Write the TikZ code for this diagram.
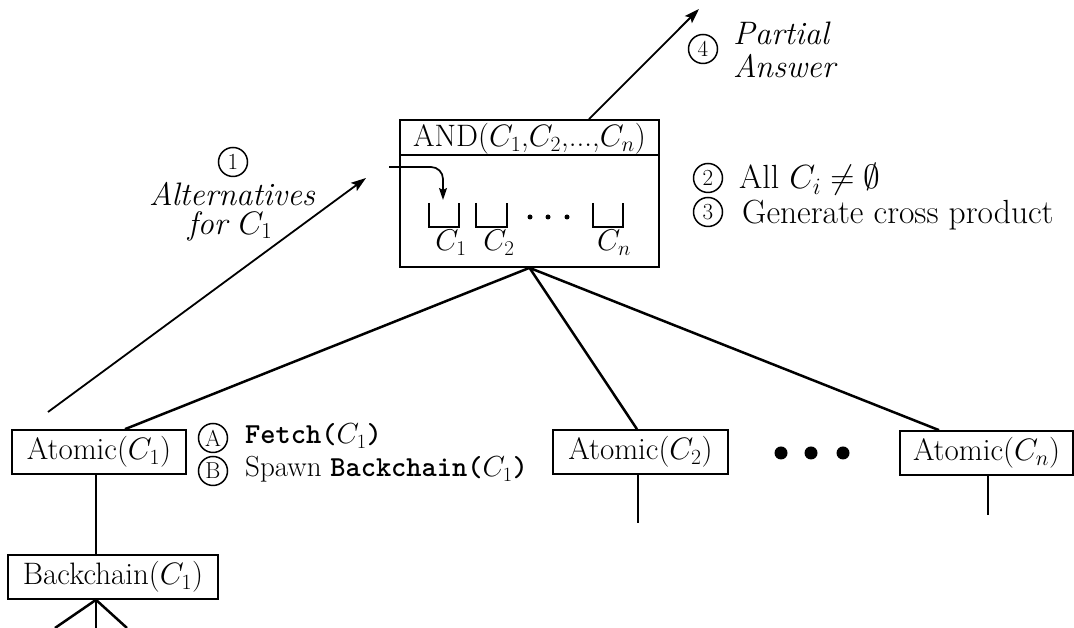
\documentclass[tikz,border=0pt]{standalone}
\usepackage{fix-cm}
\usepackage{fontspec}
\usetikzlibrary{arrows.meta}
\begin{document}
\begin{tikzpicture}[x=1pt,y=1pt,
  box/.style={draw, line width=1.7pt, inner sep=0pt, minimum height=44pt, font=\fontsize{31}{36}\selectfont},
  edge/.style={line width=2.5pt},
  thinline/.style={line width=1.7pt},
  arr/.style={line width=1.8pt, -{Stealth[length=15pt,width=10pt,inset=3pt]}},
  circ/.style={circle, draw, line width=1.5pt, inner sep=0pt, minimum size=29pt, font=\fontsize{23}{23}\selectfont},
  lbl/.style={anchor=base west, inner sep=0pt, font=\fontsize{33.5}{38}\selectfont},
  sublbl/.style={anchor=base west, inner sep=0pt, font=\fontsize{29}{34}\selectfont},
  itl/.style={inner sep=0pt, font=\fontsize{32.5}{38}\selectfont\itshape},
  bigdot/.style={circle, fill, inner sep=0pt, minimum size=13pt},
  smalldot/.style={circle, fill, inner sep=0pt, minimum size=5pt}
]
\useasboundingbox (0,0) rectangle (1074,628);

% AND node
\node[draw, line width=1.7pt, minimum width=259pt, minimum height=147pt, inner sep=0pt] (and) at (529.5,434.5) {};
\node[inner sep=0pt, font=\fontsize{31}{36}\selectfont] (andhdr) at (529.5,489) {AND($C_1$,$C_2$,...,$C_n$)};
\draw[line width=1.7pt] ([yshift=-36pt]and.north west) -- ([yshift=-36pt]and.north east);

% bins
\draw[thinline] (429,425) -- (429,401) -- (459,401) -- (459,425);
\draw[thinline] (476,425) -- (476,401) -- (507,401) -- (507,425);
\draw[thinline] (593,425) -- (593,401) -- (623,401) -- (623,425);
\node[inner sep=0pt, font=\fontsize{30}{36}\selectfont] (lc1) at (451,385) {$C_1$};
\node[inner sep=0pt, font=\fontsize{30}{36}\selectfont] (lc2) at (499,385) {$C_2$};
\node[inner sep=0pt, font=\fontsize{30}{36}\selectfont] (lcn) at (614,385) {$C_n$};
\node[smalldot] (d1) at (530,411) {};
\node[smalldot] (d2) at (548,411) {};
\node[smalldot] (d3) at (567,411) {};

% small arrow into C1 bin
\coordinate (sa0) at (389,461);
\coordinate (sa1) at (443,428);
\draw[thinline, -{Stealth[length=12pt,width=8pt,inset=2pt]}] (sa0) -- (431,461) to[out=0,in=90] (443,449) -- (sa1);

% arrow 1
\coordinate (alt0) at (48,216);
\coordinate (alt1) at (366,450);
\draw[arr] (alt0) -- (alt1);
\node[circ] (n1) at (233,466) {1};
\node[itl] (alt) at (232,434) {Alternatives};
\node[itl] (for) at (230,402) {for $C_1$};

% arrow 4
\coordinate (pa1) at (699,619);
\draw[arr] ([xshift=59.5pt]and.north) -- (pa1);
\node[circ] (n4) at (703,579) {4};
\node[itl, anchor=base west] (partial) at (733,583) {Partial};
\node[itl, anchor=base west] (answer) at (733,550) {Answer};

% 2 and 3
\node[circ] (n2) at (708,450) {2};
\node[lbl] (allci) at (739,439) {All $C_i \neq \emptyset$};
\node[circ] (n3) at (708,416) {3};
\node[lbl] (gen) at (742,404) {Generate cross product};

% atomic boxes
\node[box, minimum width=174pt] (a1) at (99,176) {Atomic($C_1$)};
\node[box, minimum width=175pt] (a2) at (640.5,176) {Atomic($C_2$)};
\node[box, minimum width=173pt] (an) at (986.5,175) {Atomic($C_n$)};
\node[box, minimum width=210pt] (bc) at (113,51) {Backchain($C_1$)};

\draw[edge] (and.south) -- ([xshift=26pt]a1.north);
\draw[edge] (and.south) -- ([xshift=-3.5pt]a2.north);
\draw[edge] (and.south) -- ([xshift=-47.5pt]an.north);

\draw[edge] ([xshift=-3pt]a1.south) -- ([xshift=-17pt]bc.north);
\coordinate (b1) at (55,0);
\coordinate (b2) at (96,0);
\coordinate (b3) at (127,0);
\draw[edge] ([xshift=-17pt]bc.south) -- (b1);
\draw[edge] ([xshift=-17pt]bc.south) -- (b2);
\draw[edge] ([xshift=-17pt]bc.south) -- (b3);

\coordinate (a2end) at (638,105);
\coordinate (anend) at (988,113);
\draw[edge] (a2.south -| a2end) -- (a2end);
\draw[edge] (an.south -| anend) -- (anend);

\node[bigdot] (e1) at (781,175) {};
\node[bigdot] (e2) at (811,175) {};
\node[bigdot] (e3) at (843,175) {};

% A and B
\node[circ] (na) at (213,190) {A};
\node[sublbl] (fetch) at (245,184) {\texttt{\bfseries Fetch(}$C_1$\texttt{\bfseries )}};
\node[circ] (nb) at (213,157) {B};
\node[sublbl] (spawn) at (245,151) {Spawn \texttt{\bfseries Backchain(}$C_1$\texttt{\bfseries )}};
\end{tikzpicture}
\end{document}
